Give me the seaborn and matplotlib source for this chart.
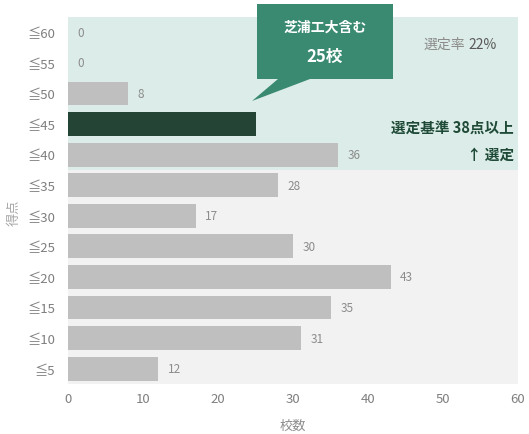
import numpy as np
import matplotlib
matplotlib.use("Agg")
import matplotlib.pyplot as plt
from matplotlib.patches import Polygon
import seaborn as sns

# data
bins = ['≦60', '≦55', '≦50', '≦45', '≦40', '≦35', '≦30', '≦25', '≦20', '≦15', '≦10', '≦5']
counts = [0, 0, 8, 25, 36, 28, 17, 30, 43, 35, 31, 12]
highlight = '≦45'

sns.set_style("white")
plt.rcParams['font.family'] = ['Noto Sans CJK JP', 'DejaVu Sans']

W, H = 529, 435
fig = plt.figure(figsize=(W / 100, H / 100), dpi=100)
ax = fig.add_axes([68 / W, 1 - 385 / H, 450 / W, 367 / H])

colors = ['#1e4a37' if b == highlight else '#bfbfbf' for b in bins]
sns.barplot(x=counts, y=bins, hue=bins, palette=colors, orient='h',
            width=0.78, legend=False, ax=ax, zorder=3, linewidth=0)

# selected / not selected backgrounds
ax.axhspan(-0.5, 4.5, color='#dcece8', zorder=0, lw=0)
ax.axhspan(4.5, len(bins) - 0.5, color='#f2f2f2', zorder=0, lw=0)

ax.set_xlim(0, 60)
ax.set_ylim(len(bins) - 0.5, -0.5)
ax.set_xticks(range(0, 61, 10))
sns.despine(left=True, bottom=True)
ax.tick_params(length=0, labelsize=9.5, labelcolor='#7f7f7f', pad=6)
ax.tick_params(axis='y', pad=9)
ax.set_xlabel('校数', color='#8c8c8c', fontsize=9.5, labelpad=10)
ax.set_ylabel('得点', color='#a6a6a6', fontsize=9.5, va='center')
ax.yaxis.set_label_coords(-0.12, 0.47)

for i, (b, v) in enumerate(zip(bins, counts)):
    if b == highlight:
        continue
    ax.text(v + 1.3, i, str(v), va='center', ha='left', fontsize=8.5,
            color='#8c8c8c', zorder=4)

# callout
def fp(x, y):
    return (x / W, 1 - y / H)

pts = [fp(257, 5), fp(393, 5), fp(393, 80), fp(310, 80), fp(252, 102),
       fp(278, 80), fp(257, 80)]
fig.patches.append(Polygon(pts, closed=True, transform=fig.transFigure,
                           facecolor='#3a8a72', edgecolor='none', zorder=5))
fig.text(*fp(325, 28), '芝浦工大含む', color='white', fontsize=10,
         fontweight='bold', ha='center', va='center', zorder=6)
fig.text(*fp(325, 57), '25校', color='white', fontsize=12,
         fontweight='bold', ha='center', va='center', zorder=6)

fig.text(*fp(465, 45), '選定率', color='#8c8c8c', fontsize=10,
         ha='right', va='center')
fig.text(*fp(468, 45), '22%', color='#595959', fontsize=10,
         ha='left', va='center')
fig.text(*fp(514, 128), '選定基準 38点以上', color='#1e4a37', fontsize=10.5,
         fontweight='bold', ha='right', va='center')
fig.text(*fp(514, 155), '↑ 選定', color='#1e4a37', fontsize=10.5,
         fontweight='bold', ha='right', va='center')

fig.savefig('out.png', dpi=100)
